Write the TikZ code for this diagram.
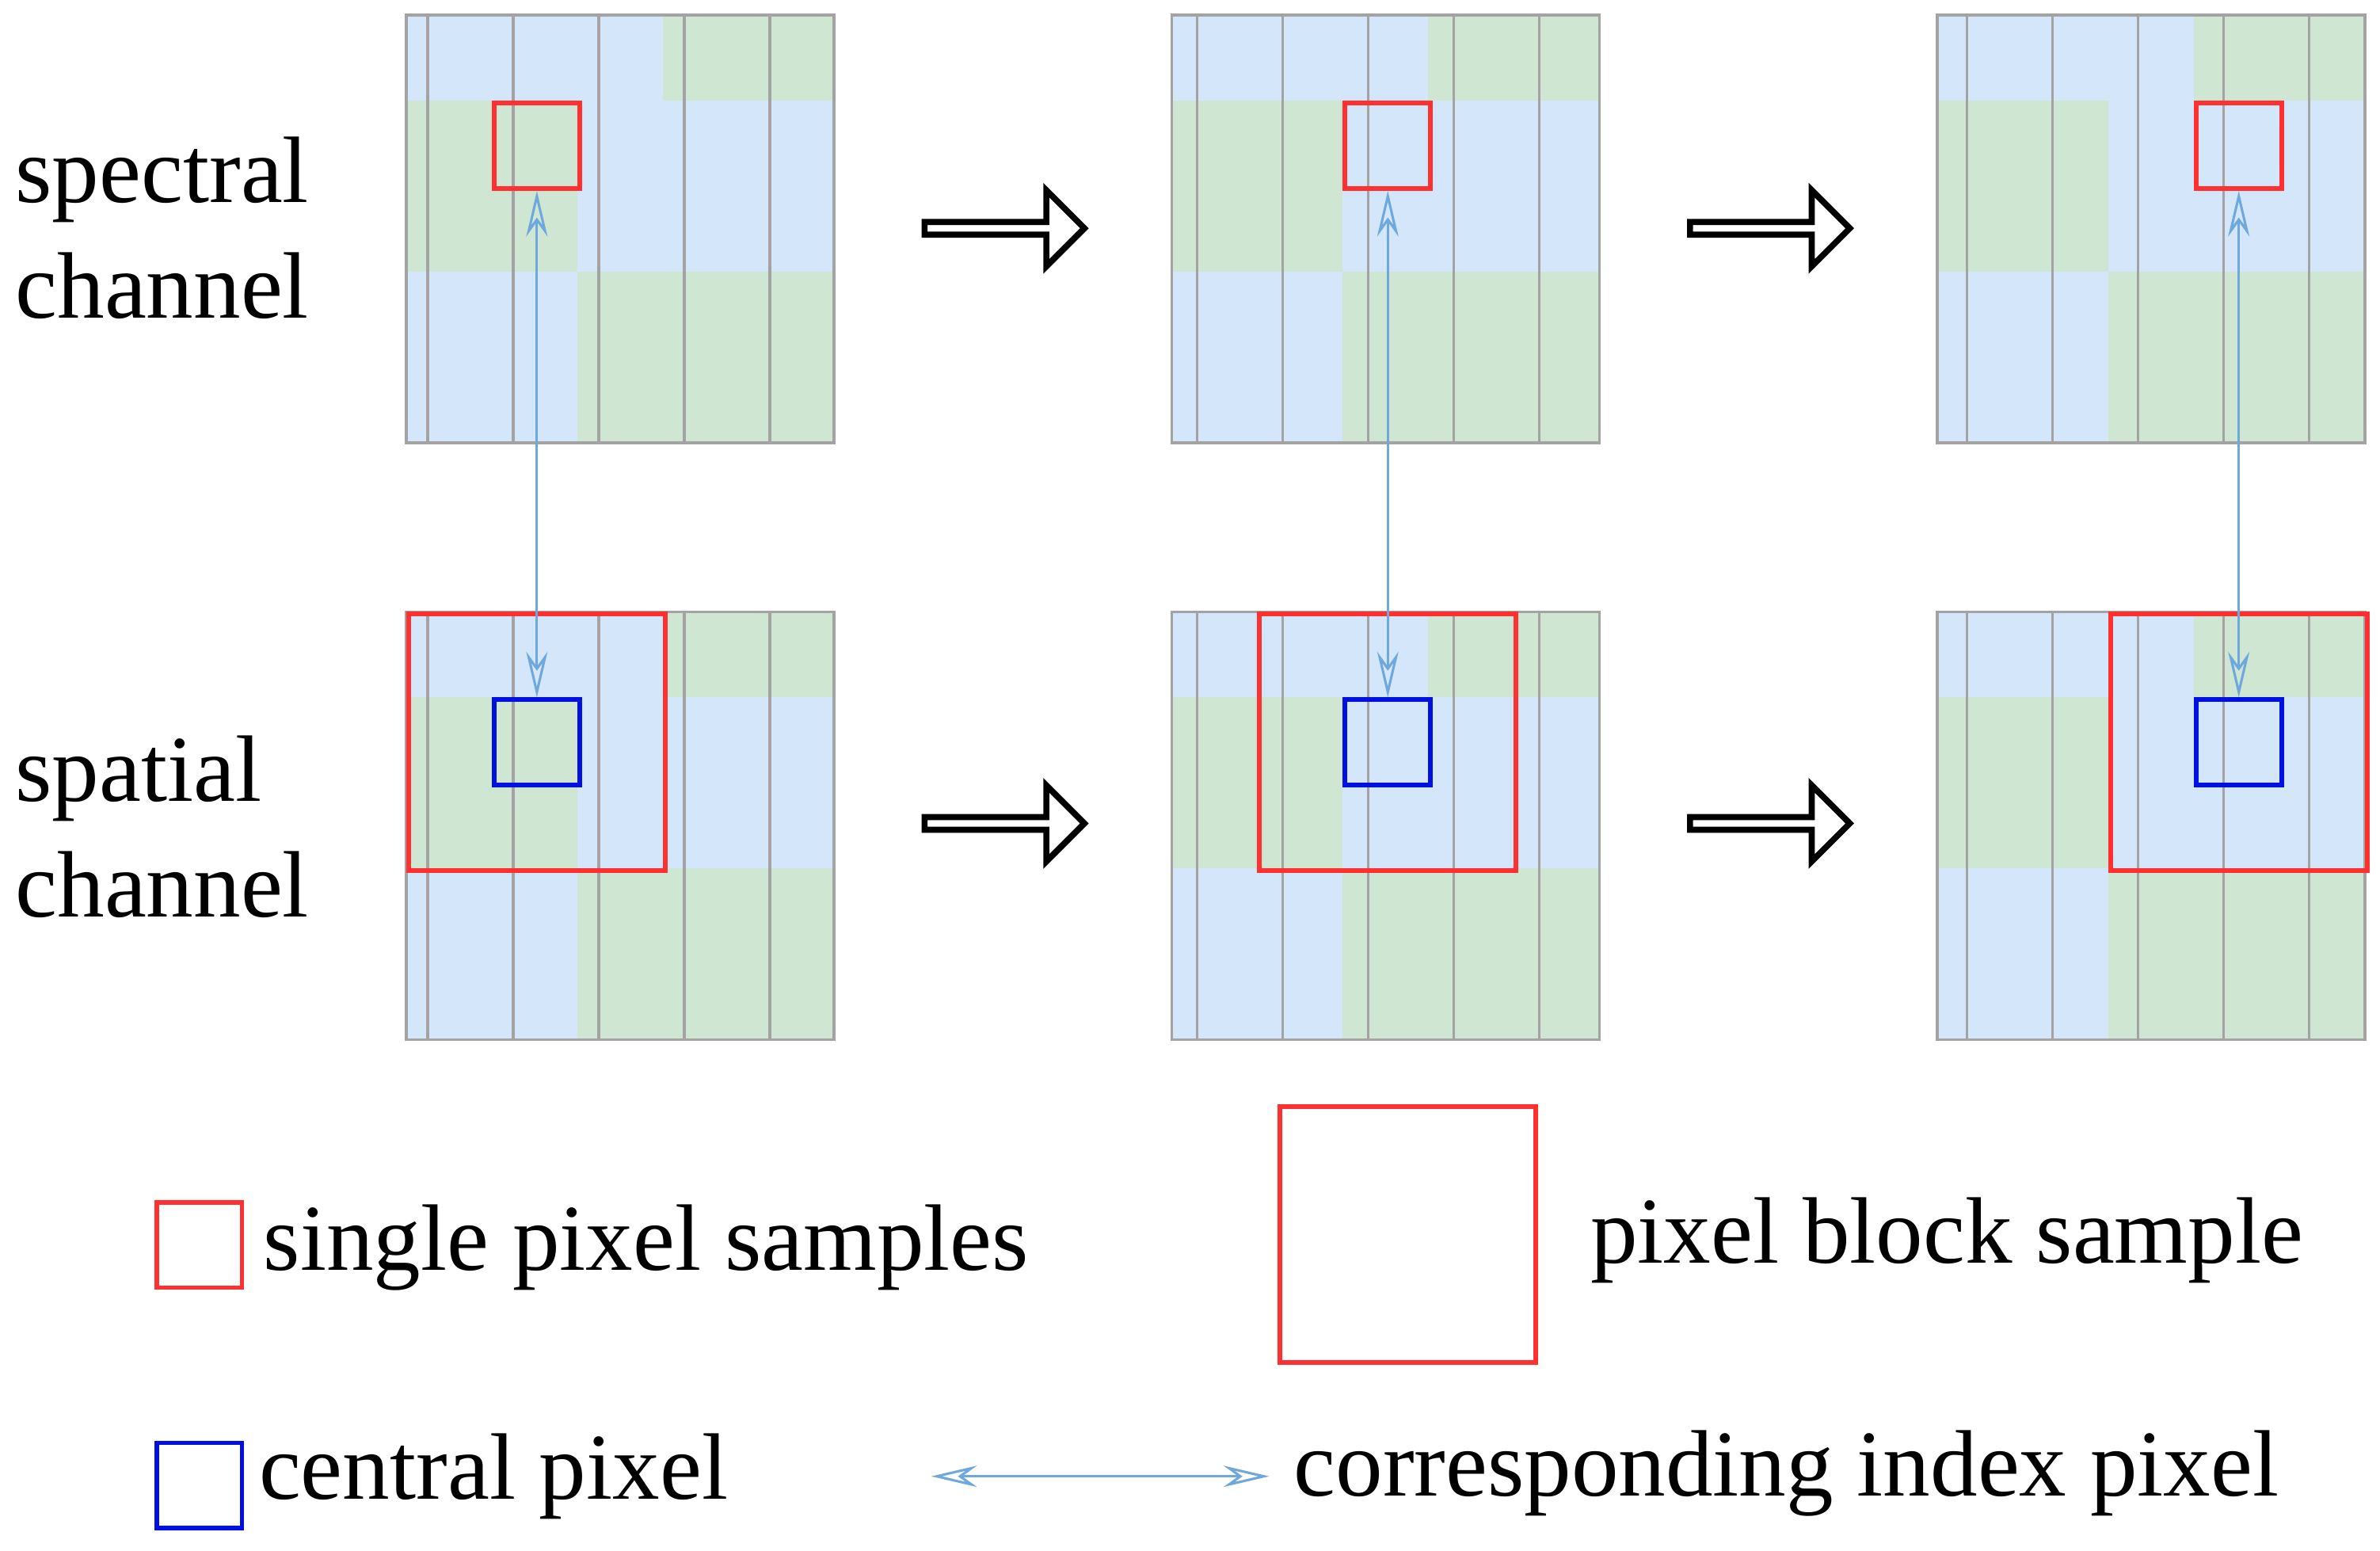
\documentclass[tikz,border=0pt]{standalone}
\usepackage{fontspec}
\setmainfont{Liberation Serif}
\usetikzlibrary{arrows.meta,shapes.arrows}
\definecolor{cb}{HTML}{D4E6F9}
\definecolor{cg}{HTML}{CFE6D2}
\definecolor{gl}{HTML}{A3A3A3}
\definecolor{rr}{HTML}{FF3030}
\definecolor{bb}{HTML}{0010E0}
\definecolor{la}{HTML}{6FA8DC}
\tikzset{
  redbox/.style={draw=rr,line width=3pt},
  bluebox/.style={draw=bb,line width=3pt},
  idx/.style={draw=la,line width=1.6pt,{Stealth[open,length=30pt,width=14pt]}-{Stealth[open,length=30pt,width=14pt]}},
  big/.style={single arrow,draw=black,fill=white,line width=4pt,minimum width=50pt,single arrow head extend=10pt,minimum height=105pt,inner sep=0pt,single arrow tip angle=90},
  lab/.style={font=\fontsize{62}{76}\selectfont,align=left,inner sep=0pt},
}
\begin{document}
\begin{tikzpicture}[x=1pt,y=-1pt]
\useasboundingbox (0,0) rectangle (1564,1019);
\def\cs{56.2}
\foreach \gx [count=\g] in {267,770,1273}{
  \foreach \gy [count=\r] in {10,402}{
    \foreach \row/\pat in {0/{b,b,b,g,g},1/{g,g,b,b,b},2/{g,g,b,b,b},3/{b,b,g,g,g},4/{b,b,g,g,g}}{
      \foreach \c [count=\col from 0] in \pat {
        \fill[c\c] (\gx+\col*\cs,\gy+\row*\cs) rectangle ++(\cs,\cs);
      }
    }
    \draw[gl,line width=1.8pt] (\gx,\gy) grid[step=\cs] (\gx+5*\cs,\gy+5*\cs);
    \draw[gl,line width=1.8pt] (\gx,\gy) rectangle (\gx+5*\cs,\gy+5*\cs);
  }
  \node[redbox,minimum size=\cs,inner sep=0pt,anchor=north west] (s\g) at (\gx+\g*\cs,10+\cs) {};
  \node[bluebox,minimum size=\cs,inner sep=0pt,anchor=north west] (c\g) at (\gx+\g*\cs,402+\cs) {};
  \node[redbox,minimum size=3*\cs,inner sep=0pt,anchor=north west] (k\g) at (\gx+\g*\cs-\cs,402) {};
  \draw[idx] (s\g.south) -- (c\g.north);
}
\node[big] (a1) at (658,150) {};
\node[big] (a2) at (1161,150) {};
\node[big] (a3) at (658,541) {};
\node[big] (a4) at (1161,541) {};
\node[lab,anchor=west] (t1) at (10,150) {spectral\\channel};
\node[lab,anchor=west] (t2) at (10,543) {spatial\\channel};
\node[redbox,minimum size=56pt,inner sep=0pt] (l1) at (131,818) {};
\node[lab,anchor=west] (l1t) at (173,820) {single pixel samples};
\node[redbox,minimum size=168pt,inner sep=0pt] (l2) at (925,811) {};
\node[lab,anchor=west] (l2t) at (1045,815) {pixel block sample};
\node[bluebox,minimum size=56pt,inner sep=0pt] (l3) at (131,976) {};
\node[lab,anchor=west] (l3t) at (170,970) {central pixel};
\coordinate (p1) at (612,970);
\coordinate (p2) at (834,970);
\draw[idx] (p1) -- (p2);
\node[lab,anchor=west] (l4t) at (850,968) {corresponding index pixel};
\end{tikzpicture}
\end{document}
